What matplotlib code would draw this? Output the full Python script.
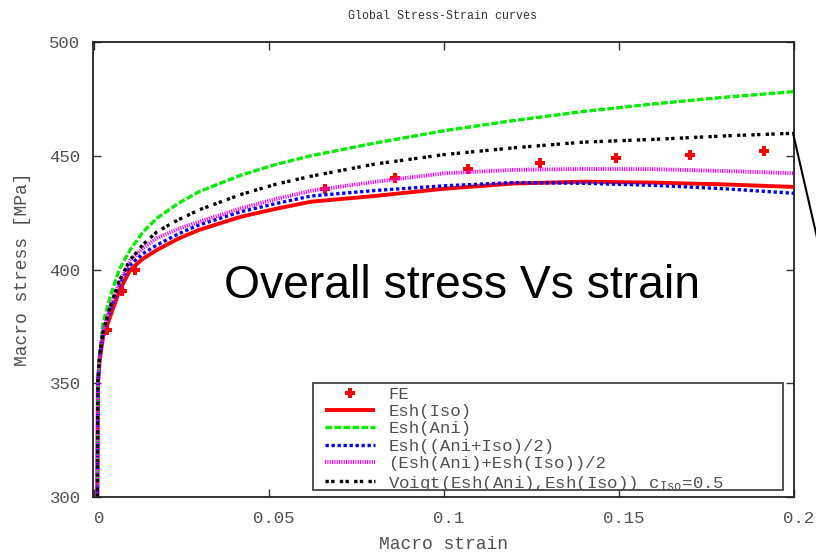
import matplotlib
matplotlib.use("Agg")
import matplotlib.pyplot as plt
from matplotlib.lines import Line2D
from matplotlib.patches import Rectangle
from matplotlib.transforms import ScaledTranslation

# ---- data ----
strain = [0.0, 0.0011, 0.0016, 0.0026, 0.0046, 0.0072, 0.0103, 0.014, 0.018,
          0.024, 0.030, 0.042, 0.052, 0.062, 0.08, 0.10, 0.12, 0.14, 0.16,
          0.18, 0.20]
esh_iso = [0.0, 349, 360, 370.5, 379.3, 390.5, 399.8, 404.8, 408.6, 413.5,
           417.4, 423.2, 426.7, 429.8, 432.3, 435.5, 437.8, 438.6, 438.2,
           437.4, 436.3]
esh_ani = [0.0, 352, 364, 376.5, 388, 400, 408.6, 416.5, 422.6, 429, 434.2,
           441.5, 446.2, 450, 455.5, 461, 465.5, 469.5, 472.8, 475.7, 478.2]
esh_mean = [0.0, 350, 361, 372.5, 382, 393, 402, 407, 410.8, 415.6, 419.6,
            425.4, 429, 432.3, 434.7, 436.8, 438.2, 437.9, 437.0, 435.5, 433.5]
mean_esh = [0.0, 350, 361, 372.7, 383, 394, 404, 409.5, 413.8, 417.8, 421,
            426.9, 431, 434.6, 438.5, 442.3, 443.8, 444.2, 444.1, 443.3, 442.3]
voigt = [0.0, 351, 362, 373, 383.6, 395, 404.2, 411, 416.6, 421.8, 426.2,
         433, 437.5, 441, 446.3, 450.5, 453.5, 456, 457.2, 458.7, 459.9]

fe_strain = [0.0037, 0.008, 0.0117, 0.0659, 0.086, 0.1069,
             0.1275, 0.149, 0.1702, 0.1914]
fe_stress = [373.4, 390.5, 399.8, 435.4, 440.2, 444.2, 446.8,
             449.0, 450.3, 452.1]

labels = ["FE", "Esh(Iso)", "Esh(Ani)", "Esh((Ani+Iso)/2)",
          "(Esh(Ani)+Esh(Iso))/2",
          r"Voigt(Esh(Ani),Esh(Iso)) $\mathregular{c_{Iso}}$=0.5"]
xticks = [0, 0.05, 0.1, 0.15, 0.2]
xticklabels = ["0", "0.05", "0.1", "0.15", "0.2"]
yticks = [300, 350, 400, 450, 500]

mono = "Liberation Mono"
gray = "#505050"

fig = plt.figure(figsize=(8.16, 5.53), dpi=100)
ax = fig.add_axes([93 / 816, 56 / 553, 701 / 816, 455 / 553])

ax.plot(fe_strain, fe_stress, linestyle="none", marker="P", markersize=6.5,
        color="#ff0000", markeredgewidth=0, label=labels[0], zorder=2)
ax.plot(strain, esh_iso, color="#ff0000", lw=2.8, solid_capstyle="butt",
        label=labels[1], zorder=3)
ax.plot(strain, esh_ani, color="#00ee00", lw=2.4, linestyle=(0, (2, 0.7)),
        label=labels[2], zorder=3)
ax.plot(strain, esh_mean, color="#0000ff", lw=2.4, linestyle=(0, (1, 0.8)),
        label=labels[3], zorder=3)
ax.plot(strain, mean_esh, color="#ff00ff", lw=2.8, linestyle=(0, (0.3, 0.3)),
        label=labels[4], zorder=3)
ax.plot(strain, voigt, color="#000000", lw=2.4,
        linestyle=(0, (1, 0.7, 1, 1.6)), label=labels[5], zorder=3)

ax.set_xlim(-0.0003, 0.2)
ax.set_ylim(300, 500)
ax.set_xticks(xticks)
ax.set_xticklabels(xticklabels)
ax.set_yticks(yticks)
ax.tick_params(direction="in", length=6, width=1.0, top=True, right=True,
               labelsize=12.5, labelcolor=gray, color="#333333")
ax.tick_params(axis="y", pad=9)
ax.tick_params(axis="x", pad=10)
for lab in ax.get_xticklabels() + ax.get_yticklabels():
    lab.set_fontfamily(mono)
for lab in ax.get_xticklabels():
    lab.set_transform(lab.get_transform() +
                      ScaledTranslation(5 / 100, 0, fig.dpi_scale_trans))
for s in ax.spines.values():
    s.set_linewidth(1.3)
    s.set_color("#222222")

ax.set_xlabel("Macro strain", fontfamily=mono, fontsize=13, color=gray,
              labelpad=7)
ax.set_ylabel("Macro stress [MPa]", fontfamily=mono, fontsize=13, color=gray,
              labelpad=13)
fig.text(443 / 816, 1 - 16 / 553, "Global Stress-Strain curves",
         fontfamily=mono, fontsize=8.4, color="#333333", ha="center",
         va="center")

# legend frame drawn separately
frame = Rectangle((0.314, 0.0154), 0.67, 0.2351, transform=ax.transAxes,
                  facecolor="white", edgecolor="#333333", lw=1.2, zorder=4)
ax.add_patch(frame)
leg = ax.legend(loc="upper left", bbox_to_anchor=(0.326, 0.2505),
                prop={"family": mono, "size": 12.5}, frameon=False,
                handlelength=2.9, handletextpad=0.75, labelspacing=0.13,
                borderpad=0.2, borderaxespad=0)
leg.set_zorder(5)
for t in leg.get_texts():
    t.set_color(gray)

fig.text(462 / 816, 1 - 298 / 553, "Overall stress Vs strain",
         fontfamily="Liberation Sans", fontsize=33.3, color="black",
         ha="center", va="baseline")

fig.add_artist(Line2D([793 / 816, 830 / 816], [1 - 133 / 553, 1 - 294 / 553],
                      transform=fig.transFigure, color="black", lw=1.5))

fig.savefig("out.png", dpi=100)
